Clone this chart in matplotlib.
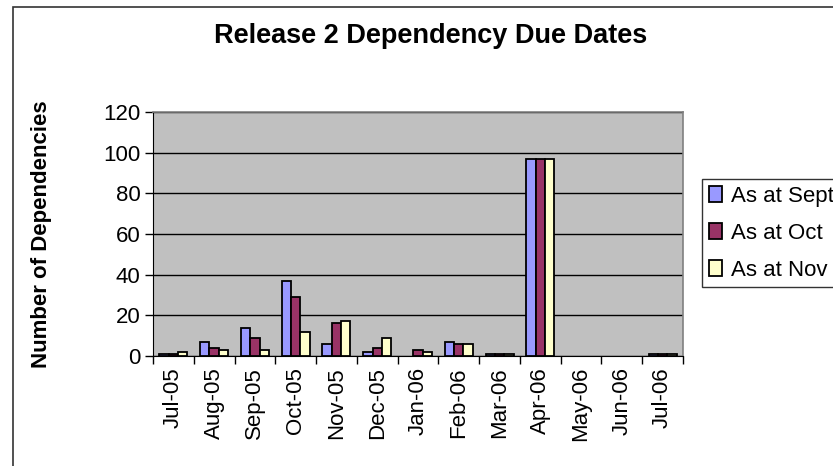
"""Release 2 dependency due dates - Excel-style clustered bar chart."""
import numpy as np
import matplotlib
matplotlib.use("Agg")
import matplotlib.pyplot as plt
from matplotlib.patches import Rectangle

plt.rcParams.update({"font.family": ["Liberation Sans", "DejaVu Sans"]})

MONTHS = ["Jul-05", "Aug-05", "Sep-05", "Oct-05", "Nov-05", "Dec-05", "Jan-06",
          "Feb-06", "Mar-06", "Apr-06", "May-06", "Jun-06", "Jul-06"]
SEPT = [1, 7, 14, 37, 6, 2, 0, 7, 1, 97, 0, 0, 1]
OCT = [1, 4, 9, 29, 16, 4, 3, 6, 1, 97, 0, 0, 1]
NOV = [2, 3, 3, 12, 17, 9, 2, 6, 1, 97, 0, 0, 1]
SERIES = ["As at Sept", "As at Oct", "As at Nov"]
COLORS = ["#9999FF", "#993366", "#FFFFCC"]

W, H = 833, 466
fig = plt.figure(figsize=(W / 100, H / 100), dpi=100)

# outer chart frame (runs off the right/bottom edge like the screenshot)
fig.patches.append(Rectangle((13 / W, -0.1), 1.2, 1 - 7 / H + 0.1,
                             transform=fig.transFigure, fill=False,
                             edgecolor="#333333", linewidth=1.2))

ax = fig.add_axes([153 / W, 1 - 356 / H, (683 - 153) / W, (356 - 112) / H])
ax.set_facecolor("#C0C0C0")

x = np.arange(len(MONTHS))
bw = 0.229
for k, (vals, name, col) in enumerate(zip([SEPT, OCT, NOV], SERIES, COLORS)):
    # Excel draws nothing for a zero value
    lws = [1.3 if v > 0 else 0 for v in vals]
    ax.bar(x + (k - 1) * bw, vals, width=bw, color=col, edgecolor="black",
           linewidth=lws, label=name, zorder=3)

ax.set_xlim(-0.5, len(MONTHS) - 0.5)
ax.set_ylim(0, 120)
ax.set_yticks(range(0, 121, 20))
ax.yaxis.grid(True, color="black", linewidth=1.0, zorder=1)
ax.set_axisbelow(True)

ax.set_xticks(x)
ax.set_xticklabels(MONTHS, rotation=90, fontsize=16)
ax.set_xticks(np.arange(-0.5, len(MONTHS)), minor=True)
ax.tick_params(axis="x", which="major", length=0, pad=8)
ax.tick_params(axis="x", which="minor", length=6, width=1, color="black")
ax.tick_params(axis="y", length=6, width=1, labelsize=16, pad=3)

for s in ["top", "right"]:
    ax.spines[s].set_color("#808080")
    ax.spines[s].set_linewidth(1.2)
ax.spines["left"].set_color("black")
ax.spines["bottom"].set_color("black")

ax.set_ylabel("Number of Dependencies", fontsize=16, fontweight="bold")
ax.yaxis.set_label_coords(-(153 - 52) / (683 - 153), 0.5)

fig.text(431 / W, 1 - 36 / H, "Release 2 Dependency Due Dates", ha="center",
         va="center", fontsize=19.5, fontweight="bold")

# legend box runs past the right edge, as in the original screenshot
leg = fig.legend(loc="upper left", bbox_to_anchor=(702 / W, 1 - 179 / H),
                 fontsize=16, frameon=True, fancybox=False, edgecolor="black",
                 handlelength=0.6, handleheight=0.75, handletextpad=0.4,
                 labelspacing=0.72, borderpad=0.3, borderaxespad=0)
leg.get_frame().set_linewidth(1.0)

fig.savefig("out.png", dpi=100)
